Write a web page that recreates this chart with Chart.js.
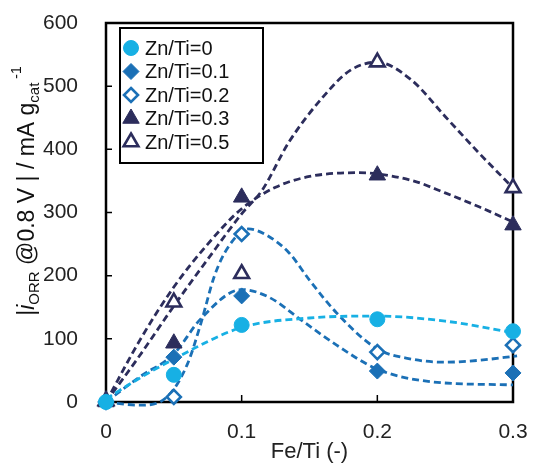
<!DOCTYPE html>
<html lang="en">
<head>
  <meta charset="UTF-8">
  <title>ORR activity vs Fe/Ti</title>
  <style>
    * { margin: 0; padding: 0; box-sizing: border-box; }
    body { background: #fff; width: 536px; height: 465px; overflow: hidden; }
    .chart-box { width: 536px; height: 465px; }
  </style>
  <script src="https://cdn.jsdelivr.net/npm/chart.js"></script>
</head>
<body>
  <div class="chart-box">
    <canvas id="orrChart" width="536" height="465"></canvas>
  </div>
  <script>
// Measured points (Fe/Ti on x)
const feTi = [0, 0.05, 0.1, 0.2, 0.3];
const zn0  = [0, 43, 122, 131, 112];
const zn01 = [0, 71, 168, 49, 46];
const zn02 = [0, 8, 266, 79, 90];
const zn03 = [0, 93, 324, 359, 280];
const zn05 = [2, 158, 203, 538, 339];

// Dashed guide curves
const fitX0  = [0, 0.025, 0.05, 0.1, 0.15, 0.2, 0.25, 0.3];
const fitY0  = [5, 38, 68, 118, 133, 136, 128, 110];
const fitX01 = [0, 0.025, 0.05, 0.07, 0.1, 0.12, 0.145, 0.17, 0.2, 0.24, 0.3];
const fitY01 = [0, 40, 76, 132, 178, 166, 128, 90, 52, 32, 27];
const fitX02 = [0, 0.025, 0.045, 0.06, 0.07, 0.08, 0.09, 0.105, 0.12, 0.135, 0.15, 0.17, 0.2, 0.225, 0.25, 0.275, 0.303];
const fitY02 = [0, -5, 8, 60, 125, 200, 245, 274, 262, 236, 193, 141, 84, 68, 63, 66, 73];
const fitX03 = [0, 0.025, 0.05, 0.075, 0.1, 0.125, 0.15, 0.185, 0.225, 0.25, 0.275, 0.3];
const fitY03 = [0, 98, 182, 250, 306, 340, 357, 363, 351, 331, 309, 285];
const fitX05 = [0, 0.025, 0.05, 0.075, 0.1, 0.115, 0.135, 0.16, 0.18, 0.2, 0.225, 0.25, 0.275, 0.3];
const fitY05 = [0, 74, 152, 226, 298, 335, 412, 483, 525, 538, 510, 452, 394, 339];

const seriesLabels = ['Zn/Ti=0', 'Zn/Ti=0.1', 'Zn/Ti=0.2', 'Zn/Ti=0.3', 'Zn/Ti=0.5'];
const yTicks = [0, 100, 200, 300, 400, 500, 600];
const xTicks = [0, 0.1, 0.2, 0.3];

const LIGHT = '#17B0E4';
const MID = '#1B70B6';
const DARK = '#2C2D5C';

const pairs = (xs, ys) => xs.map((x, i) => ({ x, y: ys[i] }));

function pointSet(label, ys, color, style, open, radius) {
  return {
    label,
    data: pairs(feTi, ys),
    showLine: false,
    pointStyle: style,
    pointRadius: radius,
    pointBackgroundColor: open ? '#fff' : color,
    pointBorderColor: color,
    pointBorderWidth: open ? 2.6 : 1,
    clip: false,
    order: 0
  };
}

function curveSet(xs, ys, color) {
  return {
    label: '',
    data: pairs(xs, ys),
    showLine: true,
    borderColor: color,
    borderWidth: 2.8,
    borderDash: [7, 4],
    pointRadius: 0,
    cubicInterpolationMode: 'monotone',
    clip: false,
    order: 1,
    isCurve: true
  };
}

const font = 'Arial, "Liberation Sans", sans-serif';

// keep chart.js from adding label overflow padding around the plot
function noPad(s) {
  s.paddingTop = s.paddingBottom = s.paddingLeft = s.paddingRight = 0;
}

// frame + inward tick marks
const framePlugin = {
  id: 'frame',
  beforeDatasetsDraw(chart) {
    const { ctx, chartArea: a, scales } = chart;
    ctx.save();
    ctx.strokeStyle = '#000';
    ctx.lineWidth = 2.5;
    ctx.strokeRect(a.left, a.top, a.right - a.left, a.bottom - a.top);
    ctx.lineWidth = 1.5;
    ctx.beginPath();
    yTicks.forEach(v => {
      const y = scales.y.getPixelForValue(v);
      ctx.moveTo(a.left, y); ctx.lineTo(a.left + 6, y);
    });
    xTicks.forEach(v => {
      const x = scales.x.getPixelForValue(v);
      ctx.moveTo(x, a.bottom); ctx.lineTo(x, a.bottom - 7);
    });
    ctx.stroke();
    ctx.restore();
  }
};

function drawMarker(ctx, ds, x, y) {
  const r = ds.pointRadius;
  ctx.save();
  ctx.fillStyle = ds.pointBackgroundColor;
  ctx.strokeStyle = ds.pointBorderColor;
  ctx.lineWidth = ds.pointBorderWidth;
  ctx.beginPath();
  if (ds.pointStyle === 'circle') {
    ctx.arc(x, y, r, 0, Math.PI * 2);
  } else if (ds.pointStyle === 'rectRot') {
    ctx.moveTo(x, y - r); ctx.lineTo(x + r, y); ctx.lineTo(x, y + r); ctx.lineTo(x - r, y);
    ctx.closePath();
  } else {
    const h = r * Math.sin(Math.PI / 3);
    ctx.moveTo(x, y - r); ctx.lineTo(x + h, y + r / 2); ctx.lineTo(x - h, y + r / 2);
    ctx.closePath();
  }
  ctx.fill();
  ctx.stroke();
  ctx.restore();
}

// boxed legend + rotated y title with sub/superscripts
const extrasPlugin = {
  id: 'extras',
  afterDraw(chart) {
    const { ctx } = chart;
    const marks = chart.data.datasets.filter(d => !d.isCurve);
    ctx.save();
    ctx.fillStyle = '#fff';
    ctx.fillRect(120, 28, 143, 135);
    ctx.strokeStyle = '#000';
    ctx.lineWidth = 2;
    ctx.strokeRect(120, 28, 143, 135);
    ctx.font = '20px ' + font;
    ctx.textBaseline = 'middle';
    marks.forEach((ds, i) => {
      const y = 48 + i * 23.5;
      drawMarker(ctx, ds, 131, y);
      ctx.fillStyle = '#111';
      ctx.fillText(ds.label, 145, y + 1);
    });
    ctx.restore();

    // y axis title
    const parts = [
      { t: '|', f: '23px ' + font, dy: 0 },
      { t: 'i', f: 'italic 23px ' + font, dy: 0 },
      { t: 'ORR', f: '15px ' + font, dy: 7 },
      { t: ' @0.8 V | / mA g', f: '23px ' + font, dy: 0 },
      { t: 'cat', f: '15px ' + font, dy: 7 },
      { t: ' -1', f: '14px ' + font, dy: -11 }
    ];
    ctx.save();
    ctx.translate(28, 191);
    ctx.rotate(-Math.PI / 2);
    ctx.fillStyle = '#111';
    ctx.textBaseline = 'middle';
    let total = 0;
    parts.forEach(p => { ctx.font = p.f; p.w = ctx.measureText(p.t).width; total += p.w; });
    let x = -total / 2;
    parts.forEach(p => {
      ctx.font = p.f;
      ctx.fillText(p.t, x, p.dy);
      x += p.w;
    });
    ctx.restore();
  }
};

const datasets = [
  pointSet(seriesLabels[0], zn0, LIGHT, 'circle', false, 7.5),
  pointSet(seriesLabels[1], zn01, MID, 'rectRot', false, 8),
  pointSet(seriesLabels[2], zn02, MID, 'rectRot', true, 7),
  pointSet(seriesLabels[3], zn03, DARK, 'triangle', false, 9.5),
  pointSet(seriesLabels[4], zn05, DARK, 'triangle', true, 8.5),
  curveSet(fitX0, fitY0, LIGHT),
  curveSet(fitX01, fitY01, MID),
  curveSet(fitX02, fitY02, MID),
  curveSet(fitX03, fitY03, DARK),
  curveSet(fitX05, fitY05, DARK)
];

new Chart(document.getElementById('orrChart'), {
  type: 'scatter',
  data: { datasets },
  plugins: [framePlugin, extrasPlugin],
  options: {
    responsive: false,
    animation: false,
    events: [],
    layout: { padding: { top: 23, right: 23, left: 0, bottom: 0 } },
    plugins: { legend: { display: false }, tooltip: { enabled: false } },
    scales: {
      x: {
        type: 'linear', min: 0, max: 0.3,
        afterFit: s => { s.height = 63; noPad(s); },
        afterBuildTicks: s => { s.ticks = xTicks.map(v => ({ value: v })); },
        grid: { display: false },
        border: { display: false },
        ticks: { color: '#222', padding: 10, font: { size: 21, family: font },
                 maxRotation: 0, callback: v => String(v) },
        title: { display: true, text: 'Fe/Ti (-)', color: '#222',
                 font: { size: 22, family: font }, padding: { top: 0, bottom: 0 } }
      },
      y: {
        min: 0, max: 600,
        afterFit: s => { s.width = 106; noPad(s); },
        afterBuildTicks: s => { s.ticks = yTicks.map(v => ({ value: v })); },
        grid: { display: false },
        border: { display: false },
        ticks: { color: '#222', padding: 20, font: { size: 21, family: font } }
      }
    }
  }
});
  </script>
</body>
</html>
